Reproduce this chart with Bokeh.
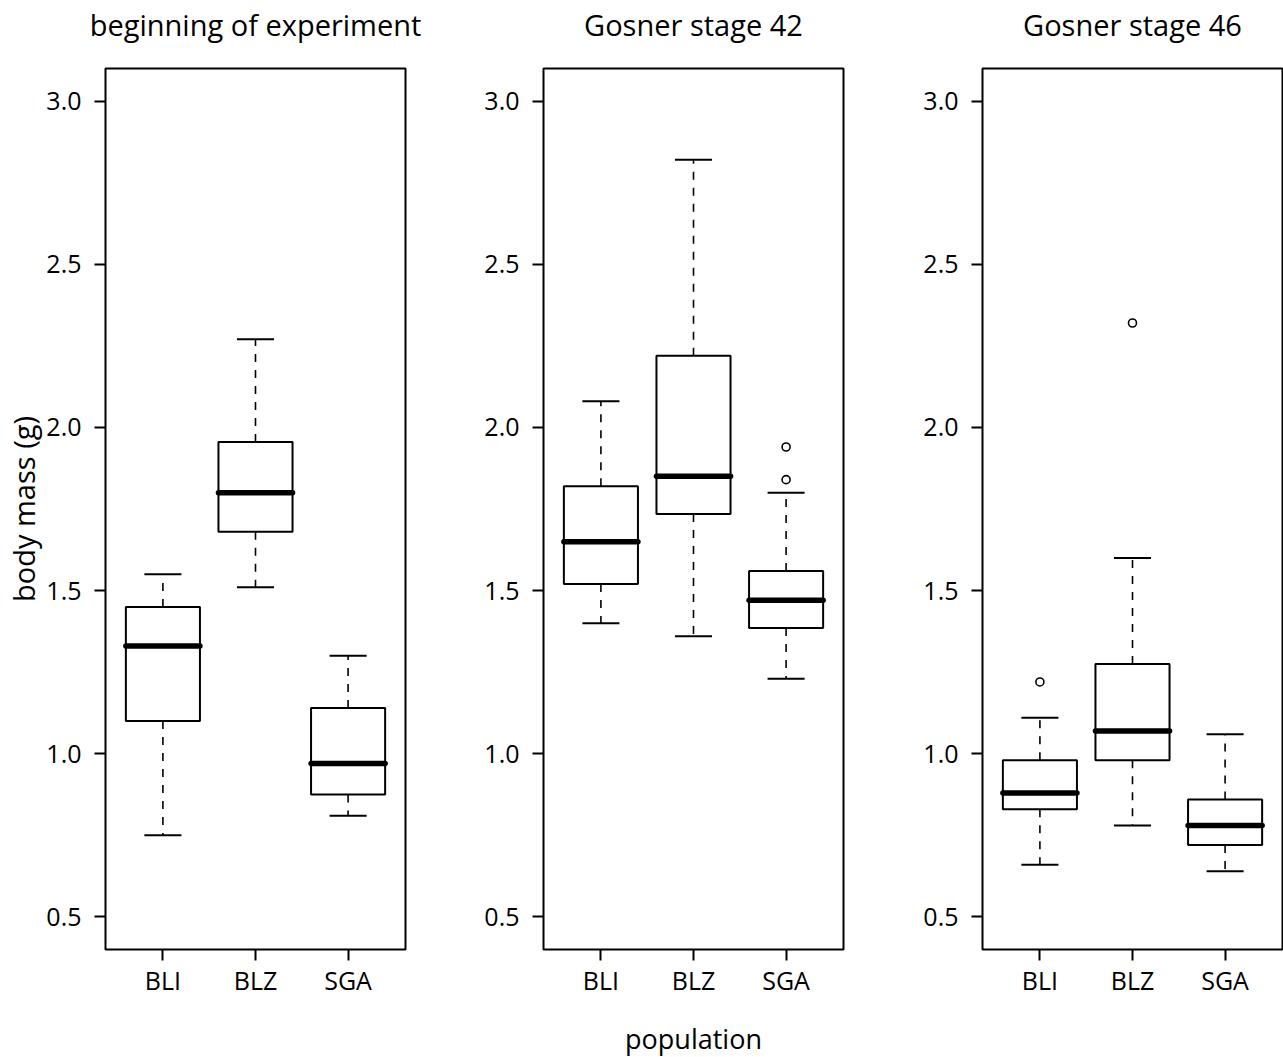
from bokeh.plotting import figure
from bokeh.layouts import row
from bokeh.models import FixedTicker, Range1d, PrintfTickFormatter, LinearAxis
from bokeh.embed import file_html
from bokeh.resources import INLINE

categories = ["BLI", "BLZ", "SGA"]
panel_titles = ["beginning of experiment", "Gosner stage 42", "Gosner stage 46"]
y_ticks = [0.5, 1.0, 1.5, 2.0, 2.5, 3.0]

# beginning of experiment
begin_low = [0.75, 1.51, 0.81]
begin_q1 = [1.10, 1.68, 0.875]
begin_med = [1.33, 1.80, 0.97]
begin_q3 = [1.45, 1.955, 1.14]
begin_high = [1.55, 2.27, 1.30]
begin_out_cat = []
begin_out_val = []

# Gosner stage 42
g42_low = [1.40, 1.36, 1.23]
g42_q1 = [1.52, 1.735, 1.385]
g42_med = [1.65, 1.85, 1.47]
g42_q3 = [1.82, 2.22, 1.56]
g42_high = [2.08, 2.82, 1.80]
g42_out_cat = ["SGA", "SGA"]
g42_out_val = [1.84, 1.94]

# Gosner stage 46
g46_low = [0.66, 0.78, 0.64]
g46_q1 = [0.83, 0.98, 0.72]
g46_med = [0.88, 1.07, 0.78]
g46_q3 = [0.98, 1.275, 0.86]
g46_high = [1.11, 1.60, 1.06]
g46_out_cat = ["BLI", "BLZ"]
g46_out_val = [1.22, 2.32]

FONT = "Open Sans"
LW = 2.0
X_START, X_END = 0.38, 3.62
Y_START, Y_END = 0.4, 3.1


def make_panel(title, low, q1, med, q3, high, out_cat, out_val,
               border_left, border_right, ylabel=None, xlabel=None):
    xs = [categories.index(c) + 1 for c in categories]
    p = figure(frame_width=300, frame_height=881,
               x_range=Range1d(X_START, X_END), y_range=Range1d(Y_START, Y_END),
               output_backend="svg", toolbar_location=None, title=None,
               min_border_left=border_left, min_border_right=border_right,
               min_border_top=68, min_border_bottom=108,
               background_fill_color="white", border_fill_color="white")

    half = 0.4
    cap = 0.2
    # whiskers (dashed)
    p.segment(x0=xs, y0=q3, x1=xs, y1=high, line_color="black",
              line_width=1.6, line_dash="8 8")
    p.segment(x0=xs, y0=q1, x1=xs, y1=low, line_color="black",
              line_width=1.6, line_dash="8 8")
    # staples
    p.segment(x0=[x - cap for x in xs], y0=high, x1=[x + cap for x in xs], y1=high,
              line_color="black", line_width=LW)
    p.segment(x0=[x - cap for x in xs], y0=low, x1=[x + cap for x in xs], y1=low,
              line_color="black", line_width=LW)
    # boxes
    p.quad(left=[x - half for x in xs], right=[x + half for x in xs],
           bottom=q1, top=q3, fill_color="white", line_color="black",
           line_width=LW)
    # medians
    p.segment(x0=[x - half for x in xs], y0=med, x1=[x + half for x in xs], y1=med,
              line_color="black", line_width=5.5, line_cap="round")
    # outliers
    if out_cat:
        ox = [categories.index(c) + 1 for c in out_cat]
        p.scatter(x=ox, y=out_val, marker="circle", size=8,
                  fill_color="white", line_color="black", line_width=1.6)

    p.xgrid.grid_line_color = None
    p.ygrid.grid_line_color = None
    p.outline_line_color = "black"
    p.outline_line_width = LW
    p.outline_line_alpha = 1.0

    xax = p.below[0]
    yax = p.left[0]
    xax.ticker = FixedTicker(ticks=xs)
    xax.major_label_overrides = {x: c for x, c in zip(xs, categories)}
    yax.ticker = FixedTicker(ticks=y_ticks)
    yax.formatter = PrintfTickFormatter(format="%.1f")
    for ax in (xax, yax):
        ax.axis_line_color = None
        ax.major_tick_out = 11
        ax.major_tick_in = 0
        ax.major_tick_line_width = LW
        ax.major_tick_line_color = "black"
        ax.minor_tick_line_color = None
        ax.major_label_text_font = FONT
        ax.major_label_text_font_size = "25px"
        ax.major_label_text_color = "black"
        ax.axis_label_text_font = FONT
        ax.axis_label_text_font_size = "29px"
        ax.axis_label_text_font_style = "normal"
        ax.axis_label_text_color = "black"
    yax.major_label_standoff = 13
    xax.major_label_standoff = 2
    if ylabel:
        yax.axis_label = ylabel
        yax.axis_label_standoff = 0
    if xlabel:
        xax.axis_label = xlabel
        xax.axis_label_text_font_size = "27px"
        xax.axis_label_standoff = 20

    # panel title as the label of a tick-less axis above the frame
    tax = LinearAxis(ticker=FixedTicker(ticks=[], minor_ticks=[]), axis_label=title,
                     axis_line_color=None, major_tick_out=0, major_tick_in=0,
                     minor_tick_out=0, minor_tick_in=0,
                     major_tick_line_color=None, minor_tick_line_color=None,
                     major_label_standoff=0,
                     axis_label_standoff=25,
                     axis_label_text_font=FONT, axis_label_text_font_size="29px",
                     axis_label_text_font_style="normal",
                     axis_label_text_color="black")
    p.add_layout(tax, "above")
    return p


p1 = make_panel(panel_titles[0], begin_low, begin_q1, begin_med, begin_q3, begin_high,
                begin_out_cat, begin_out_val, 105, 40, ylabel="body mass (g)")
p2 = make_panel(panel_titles[1], g42_low, g42_q1, g42_med, g42_q3, g42_high,
                g42_out_cat, g42_out_val, 98, 42, xlabel="population")
p3 = make_panel(panel_titles[2], g46_low, g46_q1, g46_med, g46_q3, g46_high,
                g46_out_cat, g46_out_val, 97, 1)

layout = row(p1, p2, p3)
open("out.html", "w").write(file_html(layout, INLINE))
